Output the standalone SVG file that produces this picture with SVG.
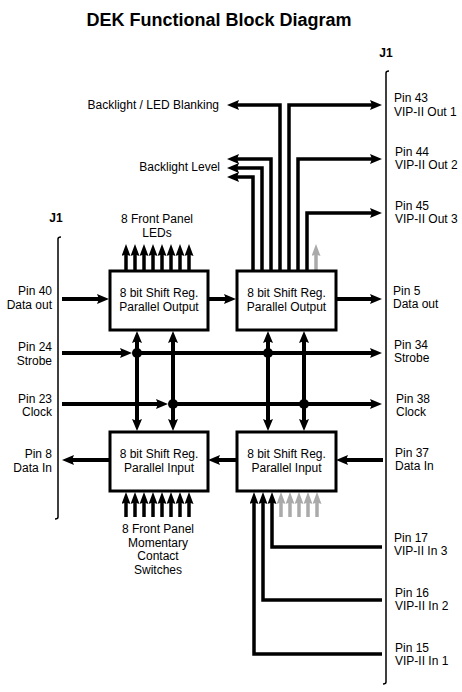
<svg xmlns="http://www.w3.org/2000/svg" width="462" height="692" viewBox="0 0 462 692">
<style>
text{font-family:"Liberation Sans",Arial,sans-serif;font-size:12px;fill:#000}
.t{font-weight:bold;font-size:18px}
.j{font-weight:bold}
.e{text-anchor:end}
.m{text-anchor:middle}
.blk{fill:#fff;stroke:#000;stroke-width:3}
.w{fill:none;stroke:#000;stroke-width:4;stroke-linejoin:miter}
.n{fill:none;stroke:#000;stroke-width:3.5}
.s{fill:none;stroke:#000;stroke-width:3.5}
.g{fill:none;stroke:#aaa;stroke-width:3.5}
.bus{fill:none;stroke:#000;stroke-width:1.5}
.big{marker-end:url(#ab)}
.dbl{marker-start:url(#ab);marker-end:url(#ab)}
.sm{marker-end:url(#as)}
.gm{marker-end:url(#ag)}
</style>
<defs>
<marker id="ab" markerUnits="userSpaceOnUse" markerWidth="12" markerHeight="10" refX="6" refY="5" orient="auto-start-reverse"><path d="M0,0 L12,5 L0,10 L2,5 z" fill="#000"/></marker>
<marker id="as" markerUnits="userSpaceOnUse" markerWidth="12" markerHeight="9" refX="5" refY="4.5" orient="auto"><path d="M0,0 L12,4.5 L0,9 L1.5,4.5 z" fill="#000"/></marker>
<marker id="ag" markerUnits="userSpaceOnUse" markerWidth="12" markerHeight="9" refX="5" refY="4.5" orient="auto"><path d="M0,0 L12,4.5 L0,9 L1.5,4.5 z" fill="#aaa"/></marker>
</defs>
<text class="t m" x="219" y="26">DEK Functional Block Diagram</text>
<g id="j1-right">
<text class="j m" x="386" y="57">J1</text>
<path class="bus" d="M386,682 V73 q0,-2 3,-2 M386,682 q0,2 -3,2"/>
</g>
<g id="j1-left">
<text class="j m" x="56" y="222">J1</text>
<path class="bus" d="M58,517 V239 q0,-2 3,-2 M58,517 q0,2 -3,2"/>
</g>
<g id="connectors">
<path class="n big" d="M280,272 V105 H233"/>
<path class="n big" d="M289,272 V105 H376"/>
<path class="n big" d="M271,272 V159 H233"/>
<path class="n big" d="M262,272 V168 H233"/>
<path class="n big" d="M253,272 V177 H233"/>
<path class="n big" d="M298,272 V159 H376"/>
<path class="n big" d="M307,272 V213 H376"/>
<path class="g gm" d="M316,272 V251"/>
<path class="s sm" d="M126,271 V251"/>
<path class="s sm" d="M135,271 V251"/>
<path class="s sm" d="M144,271 V251"/>
<path class="s sm" d="M153,271 V251"/>
<path class="s sm" d="M162,271 V251"/>
<path class="s sm" d="M171,271 V251"/>
<path class="s sm" d="M180,271 V251"/>
<path class="s sm" d="M189,271 V251"/>
<path class="w big" d="M62,299 H103"/>
<path class="w big" d="M208,299 H230"/>
<path class="w big" d="M336,299 H376"/>
<path class="w big" d="M62,353 H126"/>
<path class="w big" d="M137,353 H376"/>
<path class="w big" d="M62,404 H162"/>
<path class="w big" d="M173,404 H376"/>
<path class="w dbl" d="M137,337 V425"/>
<path class="w dbl" d="M173,337 V425"/>
<path class="w dbl" d="M268,337 V425"/>
<path class="w dbl" d="M304,337 V425"/>
<circle cx="137" cy="353" r="5"/>
<circle cx="268" cy="353" r="5"/>
<circle cx="173" cy="404" r="5"/>
<circle cx="304" cy="404" r="5"/>
<path class="w big" d="M110,460 H68"/>
<path class="w big" d="M237,460 H214"/>
<path class="w big" d="M383,460 H342"/>
<path class="s sm" d="M126,517 V499"/>
<path class="s sm" d="M135,517 V499"/>
<path class="s sm" d="M144,517 V499"/>
<path class="s sm" d="M153,517 V499"/>
<path class="s sm" d="M162,517 V499"/>
<path class="s sm" d="M171,517 V499"/>
<path class="s sm" d="M180,517 V499"/>
<path class="s sm" d="M189,517 V499"/>
<path class="g gm" d="M281,517 V499"/>
<path class="g gm" d="M290,517 V499"/>
<path class="g gm" d="M299,517 V499"/>
<path class="g gm" d="M308,517 V499"/>
<path class="g gm" d="M317,517 V499"/>
<path class="n sm" d="M382,547 H272 V499"/>
<path class="n sm" d="M382,600 H263 V499"/>
<path class="n sm" d="M382,654 H254 V499"/>
</g>
<g id="block-out-1">
<rect class="blk" x="110" y="271" width="98" height="59"/>
<text class="m" x="159" y="297">8 bit Shift Reg.</text>
<text class="m" x="159" y="311">Parallel Output</text>
</g>
<g id="block-out-2">
<rect class="blk" x="237" y="271" width="99" height="59"/>
<text class="m" x="286.5" y="297">8 bit Shift Reg.</text>
<text class="m" x="286.5" y="311">Parallel Output</text>
</g>
<g id="block-in-1">
<rect class="blk" x="110" y="432" width="98" height="59"/>
<text class="m" x="159" y="458">8 bit Shift Reg.</text>
<text class="m" x="159" y="472">Parallel Input</text>
</g>
<g id="block-in-2">
<rect class="blk" x="237" y="432" width="99" height="59"/>
<text class="m" x="286.5" y="458">8 bit Shift Reg.</text>
<text class="m" x="286.5" y="472">Parallel Input</text>
</g>
<g id="labels">
<text class="e" x="219" y="109">Backlight / LED Blanking</text>
<text class="e" x="220" y="171">Backlight Level</text>
<text class="m" x="157" y="223">8 Front Panel</text>
<text class="m" x="157" y="237">LEDs</text>
<text class="m" x="158" y="533">8 Front Panel</text>
<text class="m" x="158" y="547">Momentary</text>
<text class="m" x="158" y="560">Contact</text>
<text class="m" x="158" y="574">Switches</text>
<text x="394" y="102">Pin 43</text><text x="394" y="116">VIP-II Out 1</text>
<text x="395" y="156">Pin 44</text><text x="395" y="169">VIP-II Out 2</text>
<text x="395" y="210">Pin 45</text><text x="395" y="223">VIP-II Out 3</text>
<text x="393" y="295">Pin 5</text><text x="393" y="308">Data out</text>
<text x="394" y="349">Pin 34</text><text x="394" y="362">Strobe</text>
<text x="396" y="403">Pin 38</text><text x="396" y="416">Clock</text>
<text x="395" y="457">Pin 37</text><text x="395" y="470">Data In</text>
<text x="394" y="542">Pin 17</text><text x="394" y="555">VIP-II In 3</text>
<text x="395" y="597">Pin 16</text><text x="395" y="610">VIP-II In 2</text>
<text x="395" y="652">Pin 15</text><text x="395" y="665">VIP-II In 1</text>
<text class="e" x="52" y="295">Pin 40</text><text class="e" x="52" y="309">Data out</text>
<text class="e" x="52" y="351">Pin 24</text><text class="e" x="52" y="365">Strobe</text>
<text class="e" x="52" y="403">Pin 23</text><text class="e" x="52" y="416">Clock</text>
<text class="e" x="52" y="458">Pin 8</text><text class="e" x="52" y="472">Data In</text>
</g>
</svg>
